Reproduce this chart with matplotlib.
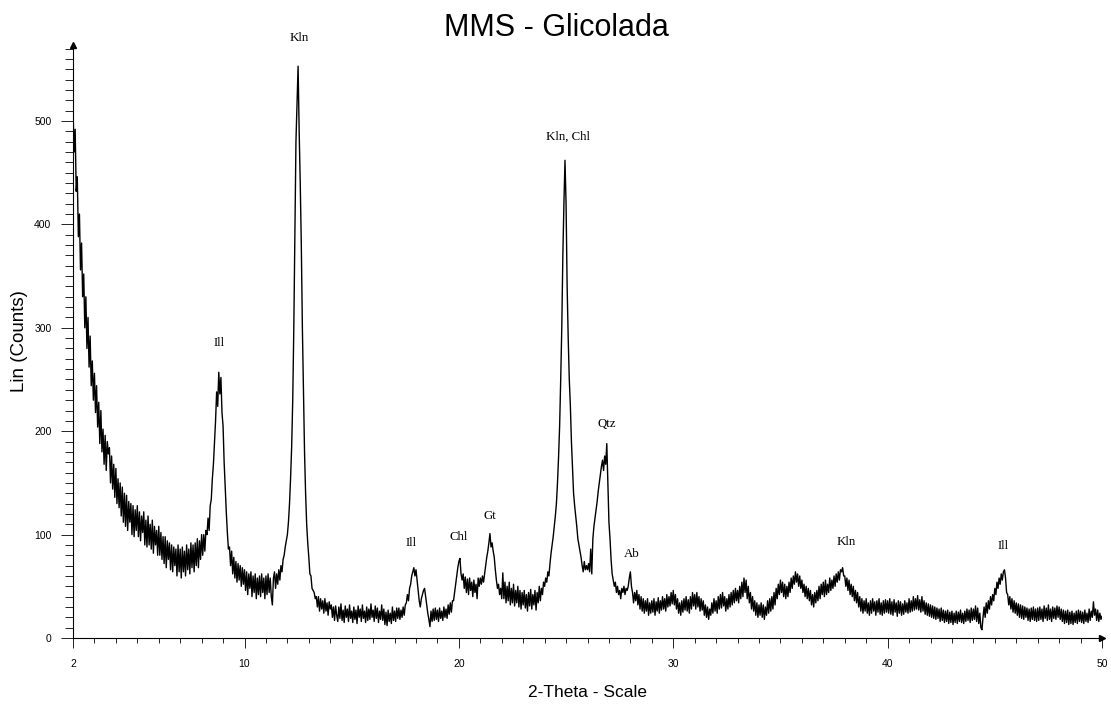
import numpy as np
import matplotlib
matplotlib.use('Agg')
import matplotlib.pyplot as plt
from matplotlib.ticker import MultipleLocator, FixedLocator

# === DATA (0.05 deg steps from 2 to 50) ===
theta_start = 2.0
theta_step = 0.05
counts = [
    512, 470, 492, 432, 446, 388, 410, 356, 382, 330, 352, 300, 330, 280, 310, 262, 292, 244, 268, 230,  # 2
    256, 218, 244, 204, 228, 188, 220, 180, 202, 168, 196, 162, 190, 178, 184, 150, 176, 144, 168, 136,  # 3
    164, 130, 154, 126, 150, 118, 146, 112, 140, 108, 138, 104, 132, 112, 130, 100, 128, 98, 124, 104,  # 4
    128, 98, 122, 94, 118, 102, 122, 90, 114, 88, 118, 90, 110, 86, 114, 82, 108, 90, 104, 80,  # 5
    108, 80, 102, 76, 98, 72, 98, 68, 94, 76, 92, 66, 90, 64, 88, 70, 86, 60, 90, 64,  # 6
    86, 58, 88, 64, 84, 60, 90, 66, 86, 62, 92, 68, 90, 64, 92, 70, 96, 68, 94, 76,  # 7
    100, 80, 100, 84, 104, 100, 116, 104, 128, 134, 154, 168, 190, 210, 238, 224, 257, 236, 252, 218,  # 8
    205, 170, 146, 122, 102, 86, 88, 70, 84, 62, 78, 58, 74, 54, 72, 56, 70, 50, 68, 52,  # 9
    66, 46, 64, 42, 62, 48, 64, 40, 60, 44, 62, 38, 58, 42, 60, 40, 62, 44, 58, 38,  # 10
    60, 42, 62, 44, 58, 40, 32, 58, 64, 48, 62, 52, 66, 56, 70, 64, 76, 80, 88, 94,  # 11
    100, 112, 130, 155, 185, 230, 300, 390, 480, 515, 553, 490, 440, 380, 300, 240, 180, 140, 110, 92,  # 12
    78, 62, 60, 48, 46, 44, 38, 40, 30, 40, 26, 38, 28, 36, 24, 38, 26, 34, 22, 35,  # 13
    28, 32, 20, 30, 17, 31, 22, 16, 30, 19, 33, 17, 27, 15, 31, 20, 28, 16, 32, 19,  # 14
    26, 15, 30, 18, 27, 14, 31, 20, 28, 16, 32, 19, 26, 15, 30, 17, 28, 18, 33, 20,  # 15
    27, 16, 31, 19, 29, 15, 26, 18, 32, 17, 28, 13, 25, 12, 27, 16, 24, 14, 30, 17,  # 16
    26, 16, 29, 19, 29, 18, 27, 20, 30, 22, 32, 34, 42, 36, 48, 52, 60, 64, 68, 60,  # 17
    66, 56, 46, 36, 30, 38, 42, 46, 48, 40, 32, 24, 18, 11, 26, 16, 28, 17, 29, 18,  # 18
    27, 16, 29, 19, 26, 17, 30, 20, 28, 19, 32, 23, 34, 25, 36, 36, 44, 52, 60, 68,  # 19
    74, 77, 62, 56, 62, 48, 59, 44, 57, 42, 58, 46, 54, 40, 56, 44, 52, 38, 58, 50,  # 20
    58, 52, 60, 54, 62, 70, 78, 84, 92, 101, 88, 92, 84, 78, 66, 56, 48, 52, 42, 48,  # 21
    38, 63, 38, 54, 34, 50, 36, 54, 32, 48, 34, 52, 31, 46, 34, 50, 30, 46, 28, 44,  # 22
    32, 46, 29, 42, 26, 44, 31, 47, 28, 42, 32, 46, 27, 44, 34, 50, 36, 48, 42, 54,  # 23
    50, 58, 54, 64, 60, 72, 82, 90, 98, 108, 118, 130, 150, 175, 205, 250, 300, 370, 420, 462,  # 24
    420, 340, 290, 250, 225, 190, 165, 140, 128, 118, 108, 96, 90, 84, 78, 70, 64, 74, 66, 70,  # 25
    66, 72, 64, 86, 62, 96, 108, 116, 124, 132, 142, 150, 158, 166, 172, 162, 176, 168, 188, 150,  # 26
    112, 96, 76, 62, 56, 50, 54, 44, 50, 42, 46, 38, 48, 44, 50, 42, 48, 46, 50, 58,  # 27
    64, 50, 44, 34, 44, 36, 46, 32, 42, 28, 40, 26, 38, 24, 36, 26, 38, 22, 34, 24,  # 28
    36, 25, 38, 22, 35, 26, 39, 24, 36, 27, 40, 28, 38, 26, 42, 30, 40, 31, 44, 33,  # 29
    46, 32, 42, 28, 38, 24, 34, 22, 36, 25, 38, 27, 40, 26, 37, 24, 40, 28, 44, 31,  # 30
    42, 28, 44, 30, 40, 26, 38, 27, 36, 22, 32, 20, 30, 18, 28, 22, 34, 24, 38, 26,  # 31
    36, 24, 40, 28, 42, 29, 44, 31, 40, 26, 38, 28, 42, 30, 44, 32, 46, 34, 48, 36,  # 32
    46, 34, 50, 38, 54, 40, 58, 44, 56, 38, 50, 34, 44, 28, 40, 26, 36, 22, 34, 20,  # 33
    32, 22, 34, 20, 32, 18, 30, 22, 36, 24, 38, 26, 40, 28, 44, 32, 48, 38, 52, 42,  # 34
    56, 44, 54, 40, 52, 38, 50, 40, 54, 44, 58, 48, 60, 52, 64, 54, 62, 50, 60, 48,  # 35
    56, 44, 52, 40, 50, 38, 48, 36, 46, 32, 42, 30, 44, 34, 46, 36, 50, 38, 52, 42,  # 36
    54, 40, 56, 42, 52, 44, 58, 46, 56, 48, 60, 50, 62, 54, 64, 56, 66, 64, 68, 60,  # 37
    60, 50, 58, 46, 56, 42, 52, 40, 50, 36, 46, 34, 44, 30, 40, 26, 38, 24, 36, 26,  # 38
    38, 24, 34, 22, 36, 24, 38, 26, 35, 22, 36, 25, 38, 23, 34, 22, 36, 24, 37, 25,  # 39
    36, 24, 38, 23, 35, 22, 37, 25, 34, 21, 36, 24, 35, 22, 33, 23, 36, 25, 34, 24,  # 40
    38, 25, 36, 26, 40, 27, 38, 28, 41, 27, 37, 25, 40, 26, 36, 23, 34, 22, 33, 21,  # 41
    32, 20, 31, 19, 30, 18, 29, 19, 28, 16, 29, 17, 27, 15, 26, 16, 27, 14, 25, 15,  # 42
    26, 13, 24, 15, 26, 14, 25, 16, 27, 15, 24, 14, 26, 16, 28, 17, 27, 15, 29, 17,  # 43
    28, 18, 31, 16, 29, 14, 24, 10, 8, 20, 30, 20, 34, 24, 36, 28, 40, 32, 42, 36,  # 44
    48, 42, 54, 48, 58, 52, 62, 56, 64, 66, 58, 44, 42, 32, 40, 28, 38, 25, 36, 24,  # 45
    34, 22, 33, 20, 32, 19, 31, 18, 30, 20, 29, 17, 28, 16, 29, 18, 30, 17, 28, 16,  # 46
    29, 17, 30, 18, 28, 16, 31, 19, 29, 17, 32, 18, 28, 16, 30, 19, 29, 18, 31, 20,  # 47
    30, 18, 28, 16, 27, 14, 26, 15, 27, 13, 25, 14, 26, 13, 24, 15, 26, 14, 27, 16,  # 48
    26, 15, 25, 14, 27, 16, 24, 15, 28, 17, 26, 20, 35, 22, 28, 17, 27, 16, 24, 18,  # 49
    21,  # 50
]

peak_labels = ['Ill', 'Kln', 'Ill', 'Chl', 'Gt', 'Kln, Chl', 'Qtz', 'Ab',
               'Kln', 'Ill']
peak_label_x = [8.8, 12.55, 17.75, 20.0, 21.45, 25.1, 26.9, 28.05,
                38.05, 45.4]
peak_label_y = [285, 580, 92, 98, 118, 485, 207, 81, 93, 89]

theta = theta_start + theta_step * np.arange(len(counts))

# === PLOT ===
fig = plt.figure(figsize=(11.11, 7.05), dpi=100)
ax = fig.add_axes([73 / 1111, 1 - 638 / 705, 1029 / 1111, 593 / 705])
ax.plot(theta, counts, color='black', lw=1.0)

ax.set_xlim(2, 50)
ax.set_ylim(0, 573.5)

for side in ['top', 'right']:
    ax.spines[side].set_visible(False)
ax.spines['left'].set_linewidth(0.8)
ax.spines['bottom'].set_linewidth(0.8)

# arrow heads at the ends of the axes
ax.plot(1, 0, '>', color='black', ms=4, transform=ax.transAxes,
        clip_on=False)
ax.plot(0, 1, '^', color='black', ms=4, transform=ax.transAxes,
        clip_on=False)

# ticks
ax.xaxis.set_major_locator(FixedLocator([2, 10, 20, 30, 40, 50]))
ax.xaxis.set_minor_locator(MultipleLocator(1))
ax.yaxis.set_major_locator(MultipleLocator(100))
ax.yaxis.set_minor_locator(MultipleLocator(10))
ax.tick_params(axis='x', which='major', length=7, width=0.6, pad=8,
               labelsize=7.5, direction='out')
ax.tick_params(axis='x', which='minor', length=3.6, width=0.6,
               direction='out')
ax.tick_params(axis='y', which='major', length=9, width=0.6, pad=6.5,
               labelsize=7.5, direction='out')
ax.tick_params(axis='y', which='minor', length=6, width=0.6,
               direction='out')
for lbl in ax.get_xticklabels() + ax.get_yticklabels():
    lbl.set_fontfamily('Liberation Sans')

# labels and title
ax.set_ylabel('Lin (Counts)', fontsize=13.5, family='Liberation Sans')
ax.yaxis.set_label_coords(-45 / 1029, 0.5)
ax.set_xlabel('2-Theta - Scale', fontsize=12.5, family='Liberation Sans')
ax.xaxis.set_label_coords(0.5, -47 / 593)
fig.text(556 / 1111, 1 - 28 / 705, 'MMS - Glicolada', fontsize=22,
         family='Liberation Sans', ha='center', va='center')

# peak identification
for s, xp, yp in zip(peak_labels, peak_label_x, peak_label_y):
    ax.text(xp, yp, s, fontsize=9.3, family='Liberation Serif',
            ha='center', va='center', clip_on=False)

fig.savefig('out.png', dpi=100)
plt.close()
